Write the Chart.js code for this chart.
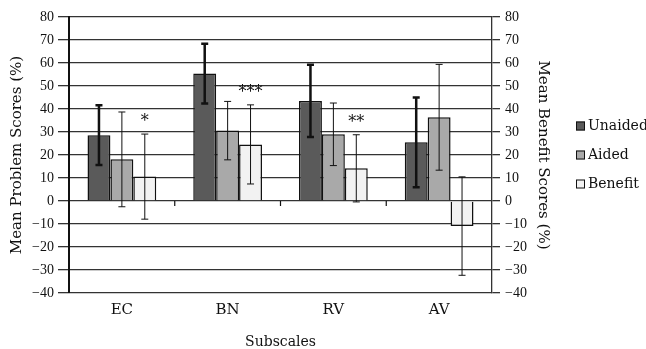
<!DOCTYPE html>
<html>
<head>
<meta charset="utf-8">
<script src="https://cdn.jsdelivr.net/npm/chart.js@4"></script>
<style>
  html, body { margin: 0; padding: 0; background: #fff; }
  #wrap { width: 646px; height: 349px; }
</style>
</head>
<body>
<div id="wrap"><canvas id="chart" width="646" height="349"></canvas></div>
<script>
// values
const categories = ['EC', 'BN', 'RV', 'AV'];
const unaided = [28.6, 55.4, 43.5, 25.5];
const unaidedErr = [13.0, 13.0, 15.7, 19.5];
const aided = [18.1, 30.6, 29.0, 36.4];
const aidedErr = [20.6, 12.7, 13.6, 23.0];
const benefit = [10.6, 24.6, 14.2, -10.9];
const benefitErr = [18.5, 17.2, 14.6, 21.4];
const stars = ['*', '***', '**', ''];
const yMin = -40, yMax = 80, yStep = 10;

const serif = '"DejaVu Serif", serif';
const tickFont = { family: '"Liberation Serif", serif', size: 14 };
const minus = (v) => String(v).replace('-', '\u2212');

const errors = [unaidedErr, aidedErr, benefitErr];
const errWidths = [2.5, 1, 1];

// error bars + significance stars
const errorBars = {
    id: 'errorBars',
    afterDatasetsDraw(chart) {
        const ctx = chart.ctx;
        const y = chart.scales.y;
        ctx.save();
        ctx.strokeStyle = '#111';
        chart.data.datasets.forEach((ds, di) => {
            const meta = chart.getDatasetMeta(di);
            meta.data.forEach((bar, i) => {
                const v = ds.data[i], e = errors[di][i];
                const top = y.getPixelForValue(v + e);
                const bot = y.getPixelForValue(v - e);
                ctx.lineWidth = errWidths[di];
                ctx.beginPath();
                ctx.moveTo(bar.x, top); ctx.lineTo(bar.x, bot);
                ctx.moveTo(bar.x - 3.5, top); ctx.lineTo(bar.x + 3.5, top);
                ctx.moveTo(bar.x - 3.5, bot); ctx.lineTo(bar.x + 3.5, bot);
                ctx.stroke();
            });
        });
        // stars above the benefit bars
        const bmeta = chart.getDatasetMeta(2);
        ctx.fillStyle = '#111';
        ctx.font = '16px ' + serif;
        ctx.textAlign = 'center';
        ctx.textBaseline = 'middle';
        stars.forEach((s, i) => {
            if (!s) return;
            const py = y.getPixelForValue(benefit[i] + benefitErr[i]) - 12;
            ctx.fillText(s, bmeta.data[i].x, py);
        });
        // category ticks on the zero line
        const x = chart.scales.x;
        const y0 = y.getPixelForValue(0);
        const half = (x.getPixelForValue(1) - x.getPixelForValue(0)) / 2;
        ctx.lineWidth = 1.2;
        ctx.beginPath();
        for (let i = 0; i < categories.length - 1; i++) {
            const px = x.getPixelForValue(i) + half;
            ctx.moveTo(px, y0); ctx.lineTo(px, y0 + 5);
        }
        ctx.stroke();
        ctx.restore();
    }
};

// legend at the right
const sideLegend = {
    id: 'sideLegend',
    afterDraw(chart) {
        const ctx = chart.ctx;
        const rows = [126, 155, 184];
        ctx.save();
        ctx.font = '14px ' + serif;
        ctx.textBaseline = 'middle';
        chart.data.datasets.forEach((ds, i) => {
            ctx.fillStyle = ds.backgroundColor;
            ctx.fillRect(576, rows[i] - 4.5, 9, 9);
            ctx.strokeStyle = '#111';
            ctx.lineWidth = 1;
            ctx.strokeRect(576.5, rows[i] - 4, 8, 8);
            ctx.fillStyle = '#111';
            ctx.fillText(ds.label, 588, rows[i]);
        });
        ctx.restore();
    }
};

new Chart(document.getElementById('chart'), {
    type: 'bar',
    data: {
        labels: categories,
        datasets: [
            { label: 'Unaided', data: unaided, backgroundColor: '#5a5a5a' },
            { label: 'Aided', data: aided, backgroundColor: '#a9a9a9' },
            { label: 'Benefit', data: benefit, backgroundColor: '#f2f2f2' }
        ]
    },
    options: {
        responsive: false,
        animation: false,
        layout: { padding: { left: 0, right: 91, top: 17, bottom: 0 } },
        datasets: {
            bar: {
                borderColor: '#111',
                borderWidth: 1.5,
                categoryPercentage: 0.65,
                barPercentage: 1.0
            }
        },
        plugins: {
            legend: { display: false },
            tooltip: { enabled: false }
        },
        scales: {
            x: {
                grid: { display: false, drawTicks: false },
                border: { display: false },
                ticks: { color: '#111', font: { family: serif, size: 15 }, padding: 8 },
                title: {
                    display: true, text: 'Subscales', color: '#111',
                    font: { family: serif, size: 14, lineHeight: 1.0 },
                    padding: { top: 0, bottom: 0 }
                },
                afterFit: (s) => { s.height = 56; }
            },
            y: {
                position: 'left',
                min: yMin, max: yMax,
                ticks: { stepSize: yStep, color: '#111', font: tickFont, padding: 4, callback: minus },
                grid: { color: '#333', lineWidth: 1.3, tickLength: 11 },
                border: { display: true, color: '#111', width: 2 },
                title: {
                    display: true, text: 'Mean Problem Scores (%)', color: '#111',
                    font: { family: serif, size: 15 },
                    padding: { top: 8, bottom: 0 }
                },
                afterFit: (s) => { s.width = 69; }
            },
            y2: {
                position: 'right',
                min: yMin, max: yMax,
                ticks: { stepSize: yStep, color: '#111', font: tickFont, padding: 5, callback: minus },
                grid: { drawOnChartArea: false, color: '#333', lineWidth: 1.3, tickLength: 8 },
                border: { display: true, color: '#333', width: 1.3 },
                title: {
                    display: true, text: 'Mean Benefit Scores (%)', color: '#111',
                    font: { family: serif, size: 15 },
                    padding: { top: 3, bottom: 0 }
                },
                afterFit: (s) => { s.width = 63; }
            }
        }
    },
    plugins: [errorBars, sideLegend]
});
</script>
</body>
</html>
